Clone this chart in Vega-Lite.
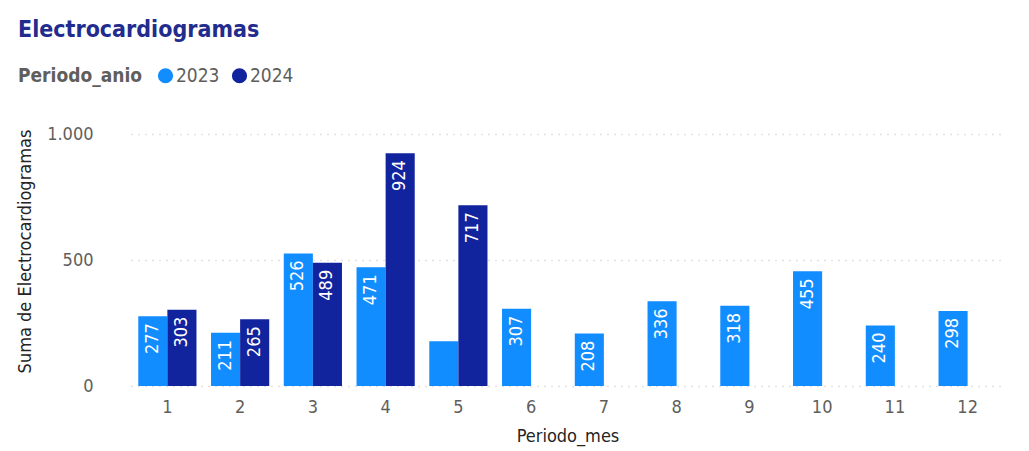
{
  "$schema": "https://vega.github.io/schema/vega-lite/v6.json",
  "autosize": {"type": "none"},
  "width": 873,
  "height": 252,
  "padding": {"left": 131, "top": 134, "right": 25, "bottom": 65},
  "background": "#ffffff",
  "config": {
    "locale": {"number": {"decimal": ",", "thousands": ".", "grouping": [3], "currency": ["", " €"]}},
    "view": {"stroke": null},
    "font": "DejaVu Sans Condensed"
  },
  "title": {
    "text": "Electrocardiogramas",
    "anchor": "start",
    "frame": "group",
    "dx": -113,
    "dy": -20,
    "font": "DejaVu Sans Condensed",
    "fontSize": 23,
    "fontWeight": "bold",
    "color": "#222C8E"
  },
  "data": {
    "values": [
      {"mes": 1, "anio": "2023", "valor": 277},
      {"mes": 2, "anio": "2023", "valor": 211},
      {"mes": 3, "anio": "2023", "valor": 526},
      {"mes": 4, "anio": "2023", "valor": 471},
      {"mes": 5, "anio": "2023", "valor": 178},
      {"mes": 6, "anio": "2023", "valor": 307},
      {"mes": 7, "anio": "2023", "valor": 208},
      {"mes": 8, "anio": "2023", "valor": 336},
      {"mes": 9, "anio": "2023", "valor": 318},
      {"mes": 10, "anio": "2023", "valor": 455},
      {"mes": 11, "anio": "2023", "valor": 240},
      {"mes": 12, "anio": "2023", "valor": 298},
      {"mes": 1, "anio": "2024", "valor": 303},
      {"mes": 2, "anio": "2024", "valor": 265},
      {"mes": 3, "anio": "2024", "valor": 489},
      {"mes": 4, "anio": "2024", "valor": 924},
      {"mes": 5, "anio": "2024", "valor": 717}
    ]
  },
  "encoding": {
    "x": {
      "field": "mes",
      "type": "ordinal",
      "title": "Periodo_mes",
      "scale": {"paddingInner": 0.2, "paddingOuter": 0.1},
      "axis": {
        "labelAngle": 0,
        "domain": false,
        "ticks": false,
        "labelColor": "#605E5C",
        "labelFontSize": 18,
        "labelPadding": 12,
        "titleFontSize": 18,
        "titleFontWeight": "normal",
        "titleColor": "#252423",
        "titlePadding": 11
      }
    },
    "xOffset": {"field": "anio", "type": "nominal", "scale": {"paddingInner": 0, "domain": ["2023", "2024"]}},
    "y": {
      "field": "valor",
      "type": "quantitative",
      "title": "Suma de Electrocardiogramas",
      "scale": {"domain": [0, 1000], "nice": false},
      "axis": {
        "values": [0, 500, 1000],
        "format": ",d",
        "domain": false,
        "ticks": false,
        "grid": true,
        "gridDash": [1, 6],
        "gridColor": "#C8C6C4",
        "gridWidth": 1.5,
        "labelColor": "#605E5C",
        "labelFontSize": 18,
        "labelPadding": 38,
        "titleFontSize": 18,
        "titleFontWeight": "normal",
        "titleColor": "#252423",
        "titlePadding": 12,
        "titleY": 117
      }
    }
  },
  "layer": [
    {
      "mark": {"type": "bar"},
      "encoding": {
        "color": {
          "field": "anio",
          "type": "nominal",
          "scale": {"domain": ["2023", "2024"], "range": ["#118DFF", "#12239E"]},
          "legend": {
            "title": "Periodo_anio",
            "orient": "none",
            "legendX": -113,
            "legendY": -68,
            "direction": "horizontal",
            "titleOrient": "left",
            "titleFontSize": 19,
            "titleFontWeight": "bold",
            "titleColor": "#605E5C",
            "titlePadding": 14,
            "labelFontSize": 19,
            "labelColor": "#605E5C",
            "labelOffset": 1,
            "symbolType": "circle",
            "symbolSize": 230,
            "columnPadding": 10
          }
        }
      }
    },
    {
      "transform": [{"filter": "datum.valor >= 200"}],
      "mark": {
        "type": "text",
        "angle": 270,
        "align": "right",
        "baseline": "middle",
        "dx": -7,
        "color": "#ffffff",
        "fontSize": 18
      },
      "encoding": {
        "text": {"field": "valor", "type": "quantitative", "format": "d"}
      }
    }
  ]
}
